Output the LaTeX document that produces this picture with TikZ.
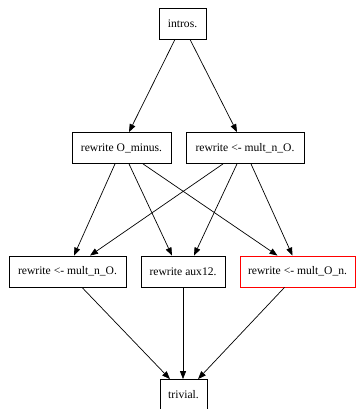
\documentclass[tikz,border=0pt]{standalone}
\usepackage{fontspec}
\setmainfont{Liberation Serif}
\usetikzlibrary{arrows.meta}
\begin{document}
\begin{tikzpicture}[x=1pt,y=-1pt,
  box/.style={draw=black,line width=0.8pt,inner sep=0pt,minimum height=31pt,font=\fontsize{11.6}{13}\selectfont},
  edge/.style={line width=0.7pt,-{Triangle[length=8pt,width=6pt]}}]
\useasboundingbox (0,0) rectangle (356,409);
\node[box,minimum width=47pt] (intros) at (182.5,23.5) {intros.};
\node[box,minimum width=99pt] (omin) at (121.5,148) {rewrite O\_minus.};
\node[box,minimum width=118pt] (mno) at (245,148) {rewrite <- mult\_n\_O.};
\node[box,minimum width=117pt] (left) at (67.5,271.5) {rewrite <- mult\_n\_O.};
\node[box,minimum width=84pt] (aux) at (183,271.5) {rewrite aux12.};
\node[box,draw=red,minimum width=115pt] (red) at (297.5,271.5) {rewrite <- mult\_O\_n.};
\node[box,minimum width=47pt] (triv) at (183.5,395) {trivial.};
\draw[edge] ([xshift=-7.5pt]intros.south) -- ([xshift=7.5pt]omin.north);
\draw[edge] ([xshift=7.5pt]intros.south) -- ([xshift=-8pt]mno.north);
\draw[edge] ([xshift=-6.5pt]omin.south) -- ([xshift=6.5pt]left.north);
\draw[edge] ([xshift=7.5pt]omin.south) -- ([xshift=-11pt]aux.north);
\draw[edge] ([xshift=21.5pt]omin.south) -- ([xshift=-20pt]red.north);
\draw[edge] ([xshift=-22pt]mno.south) -- ([xshift=22.5pt]left.north);
\draw[edge] ([xshift=-8pt]mno.south) -- ([xshift=11pt]aux.north);
\draw[edge] ([xshift=6pt]mno.south) -- ([xshift=-5pt]red.north);
\draw[edge] ([xshift=14.5pt]left.south) -- ([xshift=-13.5pt]triv.north);
\draw[edge] (aux.south) -- ([xshift=-0.5pt]triv.north);
\draw[edge] ([xshift=-13pt]red.south) -- ([xshift=14.5pt]triv.north);
\end{tikzpicture}
\end{document}
